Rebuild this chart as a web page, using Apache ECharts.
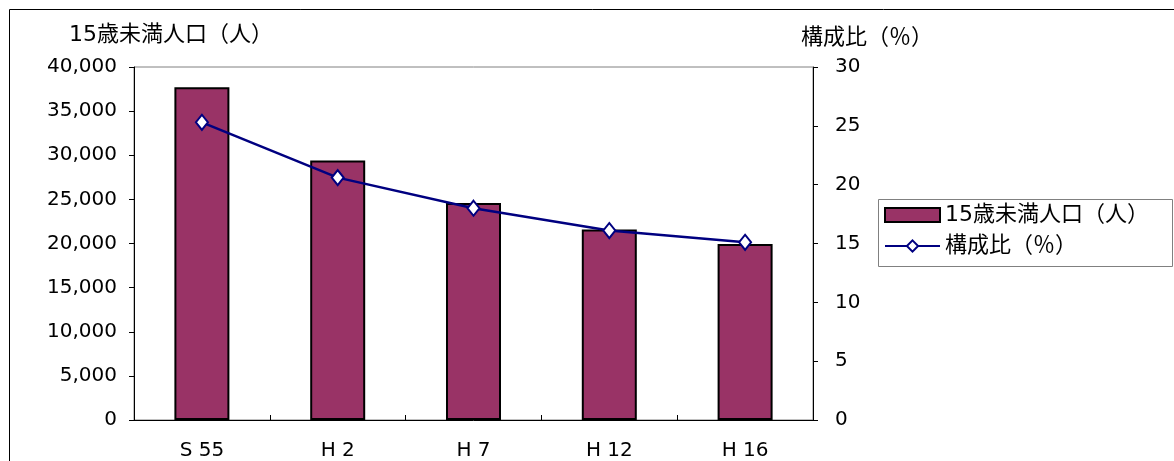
<!DOCTYPE html>
<html>
<head>
<meta charset="utf-8">
<style>
  html, body { margin: 0; padding: 0; background: #fff; }
  #chart { width: 1174px; height: 461px; }
</style>
<script src="https://cdn.jsdelivr.net/npm/echarts@6/dist/echarts.min.js"></script>
</head>
<body>
<div id="chart"></div>
<script>
// 15歳未満人口と構成比の推移
const categories = ['S 55', 'H 2', 'H 7', 'H 12', 'H 16'];
const population = [37700, 29400, 24600, 21600, 19950];   // 15歳未満人口（人）
const ratio = [25.3, 20.6, 18.0, 16.1, 15.1];             // 構成比（％）
const popName = '15歳未満人口（人）';
const ratioName = '構成比（％）';

const FONT = '"DejaVu Sans", "Noto Sans CJK JP", sans-serif';
const NAME_SIZE = 22;   // Japanese labels
const NUM_SIZE = 20;    // tick labels

const chart = echarts.init(document.getElementById('chart'), null, { renderer: 'canvas' });

chart.setOption({
  animation: false,
  backgroundColor: '#fff',
  textStyle: { fontFamily: FONT, color: '#000' },
  grid: {
    left: 134, right: 361, top: 67, bottom: 41,
    show: true, borderColor: '#808080', borderWidth: 1
  },
  graphic: [
    {
      type: 'rect', silent: true, z: -1,
      shape: { x: 9.5, y: 9.5, width: 1300, height: 600 },
      style: { fill: 'none', stroke: '#000', lineWidth: 1 }
    },
    {
      type: 'rect', silent: true,
      shape: { x: 878.5, y: 199.5, width: 294, height: 67 },
      style: { fill: '#fff', stroke: '#808080', lineWidth: 1 }
    },
    {
      type: 'text', left: 69, top: 24,
      style: { text: popName, font: NAME_SIZE + 'px ' + FONT, fill: '#000' }
    },
    {
      type: 'text', left: 801, top: 27,
      style: { text: ratioName, font: NAME_SIZE + 'px ' + FONT, fill: '#000' }
    }
  ],
  legend: {
    orient: 'vertical',
    left: 884, top: 204,
    padding: 0,
    itemWidth: 55, itemHeight: 14, itemGap: 9,
    textStyle: { fontSize: NAME_SIZE, fontFamily: FONT, color: '#000' },
    data: [{ name: popName, icon: 'rect' }, { name: ratioName }]
  },
  xAxis: {
    type: 'category',
    data: categories,
    axisLine: { lineStyle: { color: '#000', width: 1 } },
    axisTick: { show: true, inside: true, length: 5, interval: 0, alignWithLabel: false, lineStyle: { color: '#000' } },
    axisLabel: { fontSize: NUM_SIZE, color: '#000', margin: 21, fontFamily: FONT }
  },
  yAxis: [
    {
      type: 'value', min: 0, max: 40000, interval: 5000,
      axisLine: { show: true, lineStyle: { color: '#000', width: 1 } },
      axisTick: { show: true, length: 5, lineStyle: { color: '#000' } },
      splitLine: { show: false },
      axisLabel: {
        fontSize: NUM_SIZE, color: '#000', margin: 17, fontFamily: FONT,
        formatter: v => v.toLocaleString('en-US')
      }
    },
    {
      type: 'value', min: 0, max: 30, interval: 5, position: 'right',
      axisLine: { show: true, lineStyle: { color: '#000', width: 1 } },
      axisTick: { show: true, length: 5, lineStyle: { color: '#000' } },
      splitLine: { show: false },
      axisLabel: { fontSize: NUM_SIZE, color: '#000', margin: 22, fontFamily: FONT }
    }
  ],
  series: [
    {
      name: popName,
      type: 'bar',
      data: population,
      barWidth: 55,
      itemStyle: { color: '#993366', borderColor: '#000', borderWidth: 2 }
    },
    {
      name: ratioName,
      type: 'line',
      yAxisIndex: 1,
      data: ratio,
      symbol: 'diamond',
      symbolSize: [12, 15],
      lineStyle: { color: '#000080', width: 2.5 },
      itemStyle: { color: '#fff', borderColor: '#000080', borderWidth: 2 },
      z: 5
    }
  ]
});
</script>
</body>
</html>
